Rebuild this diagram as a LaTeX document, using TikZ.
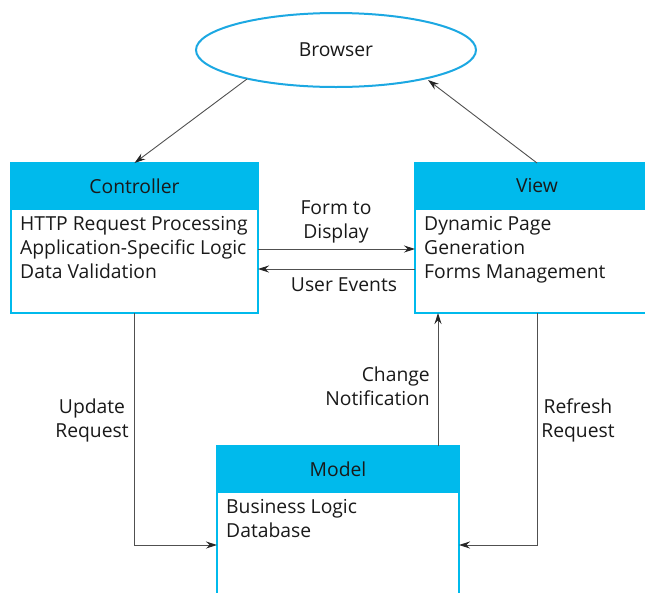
\documentclass[tikz,border=0pt]{standalone}
\usepackage{fontspec}
\setmainfont{Open Sans}
\usetikzlibrary{shapes.geometric, arrows, arrows.meta, calc, positioning}
\definecolor{mvccyan}{RGB}{0,186,236}
\definecolor{ovalblue}{RGB}{28,168,226}
\definecolor{wire}{RGB}{80,80,80}
\tikzstyle{oval} = [ellipse, draw=ovalblue, line width=2pt, minimum width=280pt, minimum height=74pt, text centered]
\tikzstyle{head} = [rectangle, draw=mvccyan, fill=mvccyan, line width=2pt, minimum height=46pt, outer sep=0pt, text centered]
\tikzstyle{block} = [rectangle, draw=mvccyan, line width=2pt, outer sep=0pt]
\tikzstyle{lines} = [anchor=north west, align=left, inner sep=0pt]
\tikzstyle{arrow} = [draw=wire, line width=0.9pt, ->, >={Stealth[length=11pt,width=7pt,color=black!85]}]
\tikzstyle{tag} = [align=center, inner sep=0pt]

\begin{document}
\begin{tikzpicture}[x=1pt, y=-1pt, font=\fontsize{19.3}{24}\selectfont, text=black!90]
		\useasboundingbox (0,0) rectangle (645,592);
		\clip (0,0) rectangle (645,592);
		\node (Browser) [oval] at (336,50) {Browser};
		% controller
		\node (ControllerHead) [head, minimum width=247pt] at (134.5,186) {Controller};
		\node (Controller) [block, minimum width=247pt, minimum height=104pt, below = 0pt of ControllerHead] {};
		\node (ControllerText) [lines] at ($(Controller.north west)+(9,7)$) {HTTP Request Processing\\Application-Specific Logic\\Data Validation};
		% view
		\node (ViewHead) [head, minimum width=244pt] at (537,186) {View};
		\node (View) [block, minimum width=244pt, minimum height=104pt, below = 0pt of ViewHead] {};
		\node (ViewText) [lines] at ($(View.north west)+(9,7)$) {Dynamic Page\\Generation\\Forms Management};
		% model
		\node (ModelHead) [head, minimum width=242pt] at (338,469) {Model};
		\node (Model) [block, minimum width=242pt, minimum height=130pt, below = 0pt of ModelHead] {};
		\node (ModelText) [lines] at ($(Model.north west)+(9,7)$) {Business Logic\\Database};
		% connectors
		\coordinate (BrowserOut) at (247,79);
		\coordinate (BrowserIn) at (428,80);
		\draw [arrow] (BrowserOut) -- (ControllerHead.north);
		\draw [arrow] (ViewHead.north) -- (BrowserIn);
		\draw [arrow] ($(Controller.east)+(0,-12)$) -- ($(View.west)+(0,-12)$);
		\draw [arrow] ($(View.west)+(0,8)$) -- ($(Controller.east)+(0,8)$);
		\draw [arrow] (Controller.south) |- ($(Model.north west)+(0,53)$);
		\draw [arrow] (View.south) |- ($(Model.north east)+(0,53)$);
		\draw [arrow] ($(ModelHead.north east)+(-21,0)$) -- ($(View.south west)+(23,0)$);
		% labels
		\node (FormLabel) [tag] at (336,222) {Form to\\Display};
		\node (EventsLabel) [tag] at (344,285) {User Events};
		\node (ChangeLabel) [tag, align=right, anchor=east] at (430,386) {Change\\Notification};
		\node (UpdateLabel) [tag] at (92,420) {Update\\Request};
		\node (RefreshLabel) [tag] at (578,420) {Refresh\\Request};
		\end{tikzpicture}
\end{document}
